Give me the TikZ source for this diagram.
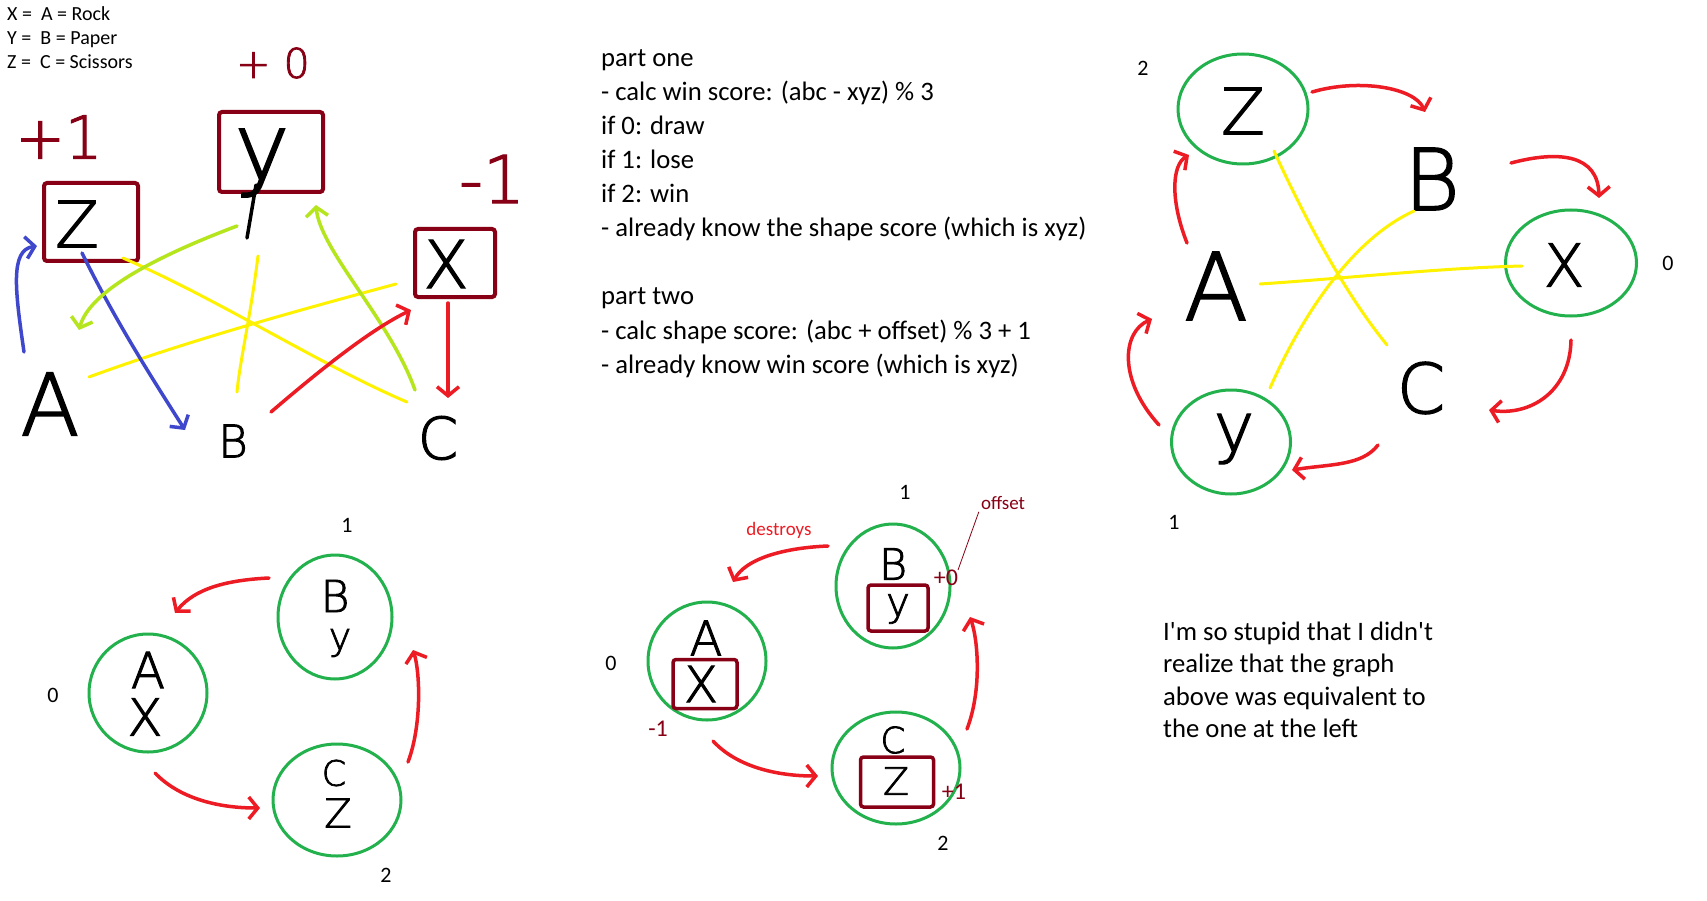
\documentclass[tikz,border=0pt]{standalone}
\usepackage{fontspec}
\newfontfamily\calib{Carlito}
\newfontfamily\hand{DejaVu Sans ExtraLight}[FakeBold=2]
\usetikzlibrary{arrows.meta,shapes.geometric}
\definecolor{dkred}{HTML}{880015}
\definecolor{pred}{HTML}{ED1C24}
\definecolor{pgreen}{HTML}{22B14C}
\definecolor{pyellow}{HTML}{FFF200}
\definecolor{plime}{HTML}{B5E61D}
\definecolor{pblue}{HTML}{3F48CC}
\newcommand\hsz[1]{\hand\fontsize{#1}{#1}\selectfont}
\newcommand\csz[1]{\calib\fontsize{#1}{#1}\selectfont}
\tikzset{
  hw/.style={inner sep=0pt, text=black},
  tx/.style={inner sep=0pt, anchor=base west, text=black},
  num/.style={inner sep=0pt, text=black, font=\csz{22}},
  hbox/.style={draw=dkred, line width=3.5pt, rectangle, rounded corners=3pt, inner sep=0pt},
  ring/.style={draw=pgreen, line width=3pt, ellipse, inner sep=0pt},
  harrow/.style={line width=3.5pt, line cap=round, line join=round, -{Straight Barb[length=9pt,width=22pt]}},
  rarr/.style={harrow, draw=pred},
  yline/.style={draw=pyellow, line width=3pt, line cap=round},
  pen/.style={draw=black, line width=3.5pt, line cap=round},
}
\begin{document}
\begin{tikzpicture}[x=1pt,y=-1pt]
\fill[white] (0,0) rectangle (1707,901);
\useasboundingbox (0,0) rectangle (1707,901);

% ---------- legend ----------
\node[tx, font=\csz{20}] (lg1) at (7,21) {X = \ A = Rock};
\node[tx, font=\csz{20}] (lg2) at (7,45) {Y = \ B = Paper};
\node[tx, font=\csz{20}] (lg3) at (7,69) {Z = \ C = Scissors};

% ---------- top-left sketch ----------
\node[hw, text=dkred, font=\hsz{41}] (p0) at (273,63) {+ 0};
\node[hw, text=dkred, font=\hsz{59}] (p1) at (59,137) {+1};
\node[hw, text=dkred, font=\hsz{66}] (m1) at (492,179) {-1};
\node[hbox, line width=4pt, minimum width=104, minimum height=80] (bY) at (271,152) {};
\node[hbox, line width=4pt, minimum width=94, minimum height=78] (bZ) at (91,222) {};
\node[hbox, line width=4pt, minimum width=80, minimum height=68] (bX) at (455,263) {};
\node[hw, font=\hsz{92}] (tly) at (262,163) {y};
\coordinate (tail) at (247,238);
\draw[pen] (tly.south) ++(-6,-12) -- (tail);
\node[hw, font=\hsz{64}] (tlz) at (77,224) {Z};
\node[hw, font=\hsz{66}] (tlx) at (446,264) {X};
\node[hw, font=\hsz{86}] (tla) at (50,404) {A};
\node[hw, font=\hsz{45}] (tlb) at (233,441) {B};
\node[hw, font=\hsz{58}] (tlc) at (438,438) {C};

\coordinate (ya1) at (123,258); \coordinate (ya2) at (407,402);
\coordinate (yb1) at (258,256); \coordinate (yb2) at (237,392);
\coordinate (yc1) at (89,377);  \coordinate (yc2) at (396,284);
\draw[yline] (ya1) .. controls (220,300) and (320,365) .. (ya2);
\draw[yline] (yb1) .. controls (250,320) and (240,360) .. (yb2);
\draw[yline] (yc1) .. controls (190,340) and (300,310) .. (yc2);

\coordinate (bl1s) at (24,352); \coordinate (bl1e) at (37,246);
\draw[harrow, draw=pblue] (bl1s) .. controls (15,290) and (10,250) .. (bl1e);
\coordinate (bl2s) at (82,253); \coordinate (bl2e) at (185,430);
\draw[harrow, draw=pblue] (bl2s) .. controls (115,320) and (150,375) .. (bl2e);
\coordinate (lg1s) at (237,226); \coordinate (lg1e) at (79,330);
\draw[harrow, draw=plime] (lg1s) .. controls (160,255) and (90,290) .. (lg1e);
\coordinate (lg2s) at (415,390); \coordinate (lg2e) at (316,205);
\draw[harrow, draw=plime] (lg2s) .. controls (390,320) and (320,250) .. (lg2e);
\coordinate (r1s) at (271,412); \coordinate (r1e) at (411,310);
\draw[rarr] (r1s) .. controls (320,370) and (370,330) .. (r1e);
\coordinate (r2s) at (448,303); \coordinate (r2e) at (448,398);
\draw[rarr] (r2s) -- (r2e);

% ---------- middle text ----------
\node[tx, font=\csz{26.67}] (t1) at (601,67) {part one};
\node[tx, font=\csz{26.67}] (t2) at (601,101) {- calc win score: (abc - xyz) \% 3};
\node[tx, font=\csz{26.67}] (t3) at (601,135) {if 0: draw};
\node[tx, font=\csz{26.67}] (t4) at (601,169) {if 1: lose};
\node[tx, font=\csz{26.67}] (t5) at (601,203) {if 2: win};
\node[tx, font=\csz{26.67}] (t6) at (601,237) {- already know the shape score (which is xyz)};
\node[tx, font=\csz{26.67}] (t7) at (601,305) {part two};
\node[tx, font=\csz{26.67}] (t8) at (601,339) {- calc shape score: (abc + offset) \% 3 + 1};
\node[tx, font=\csz{26.67}] (t9) at (601,373) {- already know win score (which is xyz)};

% ---------- right graph ----------
\node[ring, minimum width=130, minimum height=110] (rZ) at (1243,109) {};
\node[ring, minimum width=131, minimum height=106] (rX) at (1571,263) {};
\node[ring, minimum width=119, minimum height=104] (rY) at (1231,442) {};
\node[hw, font=\hsz{64}] (rz) at (1243,111) {Z};
\node[hw, font=\hsz{59}] (rx) at (1564,265) {X};
\node[hw, font=\hsz{68}] (ry) at (1234,439) {y};
\node[hw, font=\hsz{85}] (rb) at (1432,179) {B};
\node[hw, font=\hsz{93}] (ra) at (1216,286) {A};
\node[hw, font=\hsz{69}] (rc) at (1421,388) {C};
\node[num] (rn2) at (1143,68) {2};
\node[num] (rn0) at (1668,263) {0};
\node[num] (rn1) at (1174,522) {1};

\coordinate (ry1) at (1274,151); \coordinate (ry2) at (1387,345);
\coordinate (ry3) at (1260,284); \coordinate (ry4) at (1522,266);
\coordinate (ry5) at (1270,388); \coordinate (ry6) at (1414,211);
\draw[yline] (ry1) .. controls (1310,230) and (1350,300) .. (ry2);
\draw[yline] (ry3) .. controls (1350,278) and (1440,268) .. (ry4);
\draw[yline] (ry5) .. controls (1300,320) and (1350,240) .. (ry6);

\coordinate (ra1s) at (1312,92);  \coordinate (ra1e) at (1425,112);
\draw[rarr] (ra1s) .. controls (1360,78) and (1415,88) .. (ra1e);
\coordinate (ra2s) at (1511,163); \coordinate (ra2e) at (1599,198);
\draw[rarr] (ra2s) .. controls (1560,150) and (1598,155) .. (ra2e);
\coordinate (ra3s) at (1571,340); \coordinate (ra3e) at (1489,410);
\draw[rarr] (ra3s) .. controls (1570,392) and (1530,416) .. (ra3e);
\coordinate (ra4s) at (1378,445); \coordinate (ra4e) at (1292,470);
\draw[rarr] (ra4s) .. controls (1362,466) and (1330,464) .. (ra4e);
\coordinate (ra5s) at (1159,425); \coordinate (ra5e) at (1152,319);
\draw[rarr] (ra5s) .. controls (1118,380) and (1122,332) .. (ra5e);
\coordinate (ra6s) at (1187,243); \coordinate (ra6e) at (1189,155);
\draw[rarr] (ra6s) .. controls (1170,200) and (1172,165) .. (ra6e);

% ---------- bottom-left graph ----------
\node[ring, minimum width=118, minimum height=118] (lA) at (148,693) {};
\node[ring, minimum width=114, minimum height=124] (lB) at (335,617) {};
\node[ring, minimum width=128, minimum height=112] (lC) at (337,800) {};
\node[hw, font=\hsz{50}] (la) at (148,670) {A};
\node[hw, font=\hsz{51}] (lx) at (145,717) {X};
\node[hw, font=\hsz{44}] (lb) at (335,596) {B};
\node[hw, font=\hsz{38}] (ly) at (340,643) {y};
\node[hw, font=\hsz{35}] (lc) at (334,773) {C};
\node[hw, font=\hsz{40}] (lz) at (338,813) {Z};
\node[num] (ln0) at (53,695) {0};
\node[num] (ln1) at (347,525) {1};
\node[num] (ln2) at (386,875) {2};

\coordinate (la1s) at (269,578); \coordinate (la1e) at (175,613);
\draw[rarr] (la1s) .. controls (228,580) and (195,588) .. (la1e);
\coordinate (la2s) at (155,773); \coordinate (la2e) at (260,808);
\draw[rarr] (la2s) .. controls (178,797) and (215,808) .. (la2e);
\coordinate (la3s) at (408,762); \coordinate (la3e) at (413,650);
\draw[rarr] (la3s) .. controls (422,725) and (420,672) .. (la3e);

% ---------- bottom-middle graph ----------
\node[ring, minimum width=118, minimum height=118] (mA) at (707,661) {};
\node[ring, minimum width=114, minimum height=124] (mB) at (893,586) {};
\node[ring, minimum width=128, minimum height=112] (mC) at (896,768) {};
\node[hbox, minimum width=64, minimum height=49] (mbA) at (705,684) {};
\node[hbox, minimum width=60, minimum height=46] (mbB) at (898,608) {};
\node[hbox, minimum width=73, minimum height=50] (mbC) at (897,782) {};
\node[hw, font=\hsz{48}] (ma) at (706,638) {A};
\node[hw, font=\hsz{50}] (mx) at (701,684) {X};
\node[hw, font=\hsz{43}] (mb) at (893,564) {B};
\node[hw, font=\hsz{40}] (my) at (898,609) {y};
\node[hw, font=\hsz{36}] (mc) at (893,740) {C};
\node[hw, font=\hsz{38}] (mz) at (896,781) {Z};
\node[num] (mn0) at (611,663) {0};
\node[num] (mn1) at (905,492) {1};
\node[num] (mn2) at (943,843) {2};
\node[inner sep=0pt, text=dkred, font=\csz{24}] (mo1) at (658,729) {-1};
\node[inner sep=0pt, text=dkred, font=\csz{24}] (mo0) at (946,578) {+0};
\node[inner sep=0pt, text=dkred, font=\csz{24}] (mo2) at (954,792) {+1};
\node[inner sep=0pt, text=dkred, font=\csz{19}] (off) at (1003,503) {offset};
\node[inner sep=0pt, text=pred, font=\csz{19}] (dst) at (779,530) {destroys};
\coordinate (offp) at (958,570);
\draw[dkred, line width=0.8pt] (off.south west) ++(-2,2) -- (offp);

\coordinate (ma1s) at (828,546); \coordinate (ma1e) at (733,582);
\draw[rarr] (ma1s) .. controls (780,548) and (745,560) .. (ma1e);
\coordinate (ma2s) at (713,741); \coordinate (ma2e) at (818,776);
\draw[rarr] (ma2s) .. controls (736,766) and (775,776) .. (ma2e);
\coordinate (ma3s) at (967,729); \coordinate (ma3e) at (970,617);
\draw[rarr] (ma3s) .. controls (982,690) and (978,640) .. (ma3e);

% ---------- bottom-right text ----------
\node[tx, font=\csz{26.67}] (s1) at (1163,640) {I'm so stupid that I didn't};
\node[tx, font=\csz{26.67}] (s2) at (1163,672.5) {realize that the graph};
\node[tx, font=\csz{26.67}] (s3) at (1163,705) {above was equivalent to};
\node[tx, font=\csz{26.67}] (s4) at (1163,737.5) {the one at the left};
\end{tikzpicture}
\end{document}
